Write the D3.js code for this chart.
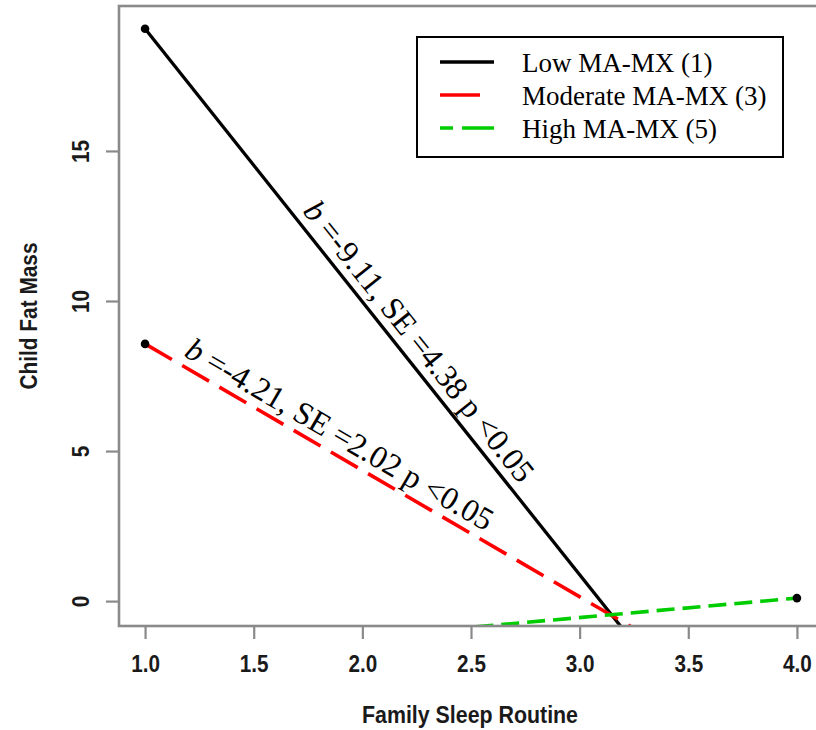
<!DOCTYPE html>
<html><head><meta charset="utf-8">
<script src="https://cdn.jsdelivr.net/npm/d3@7/dist/d3.min.js"></script>
<style>body{margin:0;background:#fff}svg{display:block}</style>
</head><body>
<svg id="c" width="816" height="730"></svg>
<script>
// ---- data ----
const xTicks = [1.0, 1.5, 2.0, 2.5, 3.0, 3.5, 4.0];
const yTicks = [0, 5, 10, 15];
const seriesNames = ["Low MA-MX (1)", "Moderate MA-MX (3)", "High MA-MX (5)"];
const lowX = [1.0, 3.2],  lowY = [19.07, -0.94];
const modX = [1.0, 3.25], modY = [8.57, -0.91];
const highX = [2.52, 4.0], highY = [-0.86, 0.10];
const pointX = [1.0, 1.0, 4.0], pointY = [19.07, 8.57, 0.10];
const annotations = ["=-9.11, SE =4.38 p <0.05", "=-4.21, SE =2.02 p <0.05"];
const annotationAt = [2.19, 1.85];

// ---- layout ----
const svg = d3.select("#c");
const L = 119, T = 6, B = 626, R = 823;
const x = d3.scaleLinear().domain([0.88, 4.12]).range([L, R]);
const y = d3.scaleLinear().domain([-0.83, 19.83]).range([B, T]);

svg.append("defs").append("clipPath").attr("id", "clip")
  .append("rect").attr("x", L).attr("y", T).attr("width", R - L).attr("height", B - T);

const series = [
  {xs: lowX, ys: lowY, color: "#000", dash: null, w: 3.3, name: seriesNames[0]},
  {xs: modX, ys: modY, color: "#ff0000", dash: "31,12", w: 3.6, name: seriesNames[1]},
  {xs: highX, ys: highY, color: "#00cd00", dash: "18,8", w: 3.6, name: seriesNames[2]}
];

const line = d3.line().x(d => x(d[0])).y(d => y(d[1]));
const g = svg.append("g").attr("clip-path", "url(#clip)");
series.forEach(s => {
  g.append("path").datum(d3.zip(s.xs, s.ys)).attr("d", line)
    .attr("fill", "none").attr("stroke", s.color).attr("stroke-width", s.w)
    .attr("stroke-dasharray", s.dash);
});
g.selectAll("circle.pt").data(d3.zip(pointX, pointY)).enter().append("circle")
  .attr("cx", d => x(d[0])).attr("cy", d => y(d[1])).attr("r", 4.3).attr("fill", "#000");

// annotations along the first two lines
[series[0], series[1]].forEach((s, i) => {
  const x0 = x(s.xs[0]), y0 = y(s.ys[0]), x1 = x(s.xs[1]), y1 = y(s.ys[1]);
  const ang = Math.atan2(y1 - y0, x1 - x0) * 180 / Math.PI;
  const t = (annotationAt[i] - s.xs[0]) / (s.xs[1] - s.xs[0]);
  const px = x0 + t * (x1 - x0), py = y0 + t * (y1 - y0);
  const tx = svg.append("text")
    .attr("transform", `translate(${px},${py}) rotate(${ang})`)
    .attr("text-anchor", "middle").attr("y", -9)
    .attr("font-family", "'Liberation Serif','Times New Roman',serif")
    .attr("font-size", 32).attr("fill", "#000");
  tx.append("tspan").attr("font-style", "italic").text("b");
  tx.append("tspan").text(" " + annotations[i]);
});

// frame
const axisCol = "#8a8a8a";
svg.append("rect").attr("x", L).attr("y", T).attr("width", R - L).attr("height", B - T)
  .attr("fill", "none").attr("stroke", axisCol).attr("stroke-width", 2.6);

// axes (R style)
const labFont = "'Liberation Sans',Arial,sans-serif";
const xAxis = svg.append("g").attr("transform", `translate(0,${B})`)
  .call(d3.axisBottom(x).tickValues(xTicks).tickSize(13).tickFormat(d3.format(".1f")));
const yAxis = svg.append("g").attr("transform", `translate(${L},0)`)
  .call(d3.axisLeft(y).tickValues(yTicks).tickSize(13).tickFormat(d3.format("d")));
[xAxis, yAxis].forEach(a => {
  a.select(".domain").remove();
  a.selectAll(".tick line").attr("stroke", axisCol).attr("stroke-width", 2.2);
  a.selectAll("text").attr("font-family", labFont)
    .attr("font-weight", "bold").attr("font-size", 23).attr("fill", "#1a1a1a");
});
xAxis.selectAll(".tick text").attr("dy", null).attr("y", null)
  .attr("transform", "translate(0,46) scale(0.9,1)");
yAxis.selectAll(".tick text").attr("x", null).attr("dy", null)
  .attr("text-anchor", "middle").attr("transform", "translate(-30,0) rotate(-90) scale(0.9,1)");

// axis titles
svg.append("text").attr("x", 470).attr("y", 723).attr("text-anchor", "middle")
  .attr("font-family", labFont).attr("font-weight", "bold")
  .attr("font-size", 23).attr("fill", "#1a1a1a")
  .attr("textLength", 216).attr("lengthAdjust", "spacingAndGlyphs")
  .text("Family Sleep Routine");
svg.append("text").attr("transform", `translate(37,${(T + B) / 2}) rotate(-90)`)
  .attr("text-anchor", "middle")
  .attr("font-family", labFont).attr("font-weight", "bold")
  .attr("font-size", 23).attr("fill", "#1a1a1a")
  .attr("textLength", 147).attr("lengthAdjust", "spacingAndGlyphs")
  .text("Child Fat Mass");

// legend
const lg = svg.append("g");
lg.append("rect").attr("x", 417).attr("y", 37).attr("width", 366).attr("height", 120)
  .attr("fill", "#fff").attr("stroke", "#000").attr("stroke-width", 2);
const legendDash = [null, "40,30", "13,9,32,9"];
series.forEach((s, i) => {
  const yy = 62 + i * 33;
  lg.append("line").attr("x1", 440).attr("x2", 494).attr("y1", yy).attr("y2", yy)
    .attr("stroke", s.color).attr("stroke-width", 3.5).attr("stroke-dasharray", legendDash[i]);
  lg.append("text").attr("x", 522).attr("y", yy + 10)
    .attr("font-family", "'Liberation Serif','Times New Roman',serif")
    .attr("font-size", 27).attr("fill", "#000").text(s.name);
});
</script>
</body></html>
